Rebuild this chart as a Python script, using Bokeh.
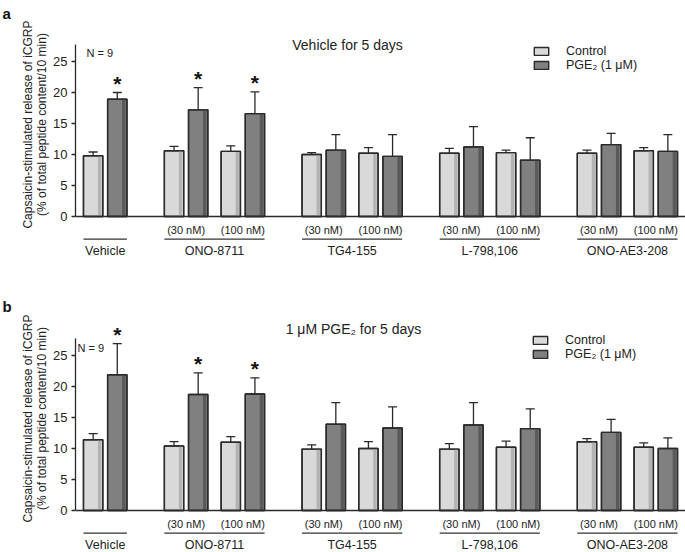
from math import pi
from bokeh.plotting import figure
from bokeh.models import (ColumnDataSource, FactorRange, Range1d, Whisker, TeeHead,
                          Span, Label, Legend, LegendItem, SingleIntervalTicker)
from bokeh.transform import dodge
from bokeh.layouts import column, row
from bokeh.embed import file_html
from bokeh.resources import INLINE
from bokeh.core.properties import value

# ---------------- data ----------------
drugs = ["Vehicle", "ONO-8711", "ONO-8711", "TG4-155", "TG4-155",
         "L-798,106", "L-798,106", "ONO-AE3-208", "ONO-AE3-208"]
doses = ["", "(30 nM)", "(100 nM)", "(30 nM)", "(100 nM)",
         "(30 nM)", "(100 nM)", "(30 nM)", "(100 nM)"]
treatments = ["Control", "PGE2"]
legend_labels = ["Control", "PGE\u2082 (1 \u03bcM)"]

# panel a: Vehicle for 5 days
a_control = [9.8, 10.6, 10.5, 10.0, 10.2, 10.2, 10.3, 10.2, 10.6]
a_control_err = [0.6, 0.7, 0.9, 0.3, 0.9, 0.8, 0.4, 0.5, 0.5]
a_pge2 = [18.9, 17.2, 16.6, 10.7, 9.7, 11.2, 9.1, 11.6, 10.5]
a_pge2_err = [1.1, 3.6, 3.5, 2.5, 3.5, 3.3, 3.6, 1.8, 2.7]
a_sig = [1, 1, 1, 0, 0, 0, 0, 0, 0]

# panel b: 1 uM PGE2 for 5 days
b_control = [11.4, 10.4, 11.0, 9.9, 10.0, 9.9, 10.2, 11.1, 10.2]
b_control_err = [1.0, 0.7, 0.9, 0.7, 1.1, 0.9, 1.0, 0.5, 0.7]
b_pge2 = [21.9, 18.7, 18.8, 13.9, 13.3, 13.8, 13.2, 12.6, 10.0]
b_pge2_err = [5.0, 3.5, 2.6, 3.5, 3.4, 3.6, 3.2, 2.1, 1.7]
b_sig = [1, 1, 1, 0, 0, 0, 0, 0, 0]

y_ticks_interval = 5
y_axis_top = 27.7
n_text = "N = 9"
ylabel1 = "Capsaicin-stimulated release of iCGRP"
ylabel2 = "(% of total peptide content/10 min)"

# ---------------- style ----------------
FONT = "Liberation Sans"
DARK = "#222222"
LINE = "#2a2a2a"
CTRL_FILL, CTRL_SHADE = "#d9d9d9", "#b3b3b3"
PGE_FILL, PGE_SHADE = "#808080", "#5a5a5a"
SIDE_W = 50
MAIN_W = 685 - SIDE_W
AXIS_BORDER = 25          # main frame left at page x = 75
PX_PER_UNIT = 6.2


def build_side(letter, height, letter_base, ylab_center):
    s = figure(width=SIDE_W, height=height, x_range=Range1d(0, 1), y_range=Range1d(0, 1),
               output_backend="svg", toolbar_location=None, x_axis_location=None,
               y_axis_location=None, min_border=0, outline_line_color=None)
    s.grid.grid_line_color = None
    s.add_layout(Label(x=2, y=height - letter_base, x_units="screen", y_units="screen",
                       text=letter, text_font=FONT, text_font_size="15px",
                       text_font_style="bold", text_align="left",
                       text_baseline="alphabetic", text_color="#111111"))
    for xx, tt in [(27, ylabel1), (41, ylabel2)]:
        s.add_layout(Label(x=xx, y=height - ylab_center, x_units="screen", y_units="screen",
                           text=tt, angle=pi / 2, text_font=FONT, text_font_size="12px",
                           text_align="center", text_baseline="alphabetic",
                           text_color=DARK))
    return s


def build_panel(title, ctrl, ctrl_err, pge, pge_err, sig, height, base_px,
                title_xy, n_xy, legend_xy):
    factors = []
    for d, s in zip(drugs, doses):
        for t in treatments:
            factors.append((d, s, t))
    xr = FactorRange(*factors, factor_padding=0.0, subgroup_padding=0.35,
                     group_padding=1.35, range_padding=0.23,
                     range_padding_units="absolute")
    ymax = base_px / PX_PER_UNIT
    ymin = -(height - base_px) / PX_PER_UNIT
    p = figure(width=MAIN_W, height=height, x_range=xr, y_range=Range1d(ymin, ymax),
               output_backend="svg", toolbar_location=None, x_axis_location=None,
               min_border=0, min_border_left=AXIS_BORDER, outline_line_color=None)
    p.grid.grid_line_color = None
    p.background_fill_color = "white"

    ya = p.yaxis[0]
    ya.bounds = (0, y_axis_top)
    ya.ticker = SingleIntervalTicker(interval=y_ticks_interval, num_minor_ticks=0)
    ya.axis_line_color = LINE
    ya.axis_line_width = 1.3
    ya.major_tick_line_color = LINE
    ya.major_tick_line_width = 1.3
    ya.major_tick_out = 4
    ya.major_tick_in = 0
    ya.minor_tick_line_color = None
    ya.major_label_text_font = FONT
    ya.major_label_text_font_size = "13px"
    ya.major_label_text_color = DARK
    ya.major_label_standoff = 4

    renderers = []
    for t, vals, errs, fill, shade in [("Control", ctrl, ctrl_err, CTRL_FILL, CTRL_SHADE),
                                        ("PGE2", pge, pge_err, PGE_FILL, PGE_SHADE)]:
        src = ColumnDataSource(dict(
            x=[(d, s, t) for d, s in zip(drugs, doses)],
            top=vals,
            upper=[v + e for v, e in zip(vals, errs)],
        ))
        r = p.vbar(x="x", top="top", width=0.8, source=src, fill_color=fill,
                   line_color=LINE, line_width=1.4)
        p.vbar(x=dodge("x", 0.27, range=xr), top="top", width=0.14, source=src,
               fill_color=shade, line_color=None)
        p.vbar(x="x", top="top", width=0.8, source=src, fill_color=None,
               line_color=LINE, line_width=1.4)
        renderers.append(r)
        wh = Whisker(source=src, base="x", lower="top", upper="upper",
                     dimension="height", line_color=LINE, line_width=1.3,
                     upper_head=TeeHead(size=9, line_color=LINE, line_width=1.3),
                     lower_head=None)
        p.add_layout(wh)

    # significance stars
    star_src = ColumnDataSource(dict(
        x=[(d, s, "PGE2") for d, s, g in zip(drugs, doses, sig) if g],
        y=[v + e for v, e, g in zip(pge, pge_err, sig) if g],
    ))
    p.text(x="x", y="y", text=value("*"), source=star_src, text_font=value(FONT),
           text_font_style="bold", text_font_size="21px", text_align="center",
           text_baseline="alphabetic", text_color="#111111", y_offset=-9)

    # baseline
    p.add_layout(Span(location=0, dimension="width", line_color=LINE, line_width=1.3))

    # dose labels
    dose_src = ColumnDataSource(dict(
        x=[(d, s) for d, s in zip(drugs, doses) if s],
        t=[s for s in doses if s],
    ))
    p.text(x="x", y=-2.1, text="t", source=dose_src, text_font=value(FONT),
           text_font_size="11px", text_align="center", text_baseline="middle",
           text_color=DARK)

    # group separator lines and drug names
    groups = []
    for d in drugs:
        if d not in groups:
            groups.append(d)
    starts, ends = [], []
    for g in groups:
        ds = [s for d, s in zip(drugs, doses) if d == g]
        starts.append((g, ds[0], "Control"))
        ends.append((g, ds[-1], "PGE2"))
    grp_src = ColumnDataSource(dict(g=groups, s=starts, e=ends))
    p.segment(x0=dodge("s", -0.4, range=xr), x1=dodge("e", 0.4, range=xr),
              y0=-3.65, y1=-3.65, source=grp_src, line_color="#333333", line_width=1.1)
    p.text(x="g", y=-5.5, text="g", source=grp_src, text_font=value(FONT),
           text_font_size="12.5px", text_align="center", text_baseline="middle",
           text_color=DARK)

    # legend
    legend = Legend(items=[LegendItem(label=value(legend_labels[0]), renderers=[renderers[0]]),
                           LegendItem(label=value(legend_labels[1]), renderers=[renderers[1]])],
                    location=legend_xy, glyph_width=18, glyph_height=10,
                    label_standoff=16, spacing=0, padding=0, margin=0,
                    label_height=12, label_text_font=FONT,
                    label_text_font_size="12.5px", label_text_color=DARK,
                    border_line_color=None, background_fill_alpha=0)
    p.add_layout(legend)

    # texts
    p.add_layout(Label(x=title_xy[0], y=title_xy[1], x_units="screen", y_units="screen",
                       text=title, text_font=FONT, text_font_size="14px",
                       text_align="center", text_baseline="middle", text_color=DARK))
    p.add_layout(Label(x=n_xy[0], y=n_xy[1], x_units="screen", y_units="screen",
                       text=n_text, text_font=FONT, text_font_size="11px",
                       text_align="left", text_baseline="middle", text_color=DARK))
    return p


HA, HB = 290, 262
sa = build_side("a", HA, letter_base=13, ylab_center=124)
pa = build_panel("Vehicle for 5 days", a_control, a_control_err, a_pge2, a_pge2_err,
                 a_sig, height=HA, base_px=216, title_xy=(272, 246), n_xy=(11, 238),
                 legend_xy=(457, 218))
sb = build_side("b", HB, letter_base=16, ylab_center=128)
pb = build_panel("1 \u03bcM PGE\u2082 for 5 days", b_control, b_control_err, b_pge2,
                 b_pge2_err, b_sig, height=HB, base_px=220, title_xy=(278, 224),
                 n_xy=(2, 205), legend_xy=(456, 191))

layout = column(row(sa, pa, spacing=0), row(sb, pb, spacing=0), spacing=0)
open("out.html", "w").write(file_html(layout, INLINE))
